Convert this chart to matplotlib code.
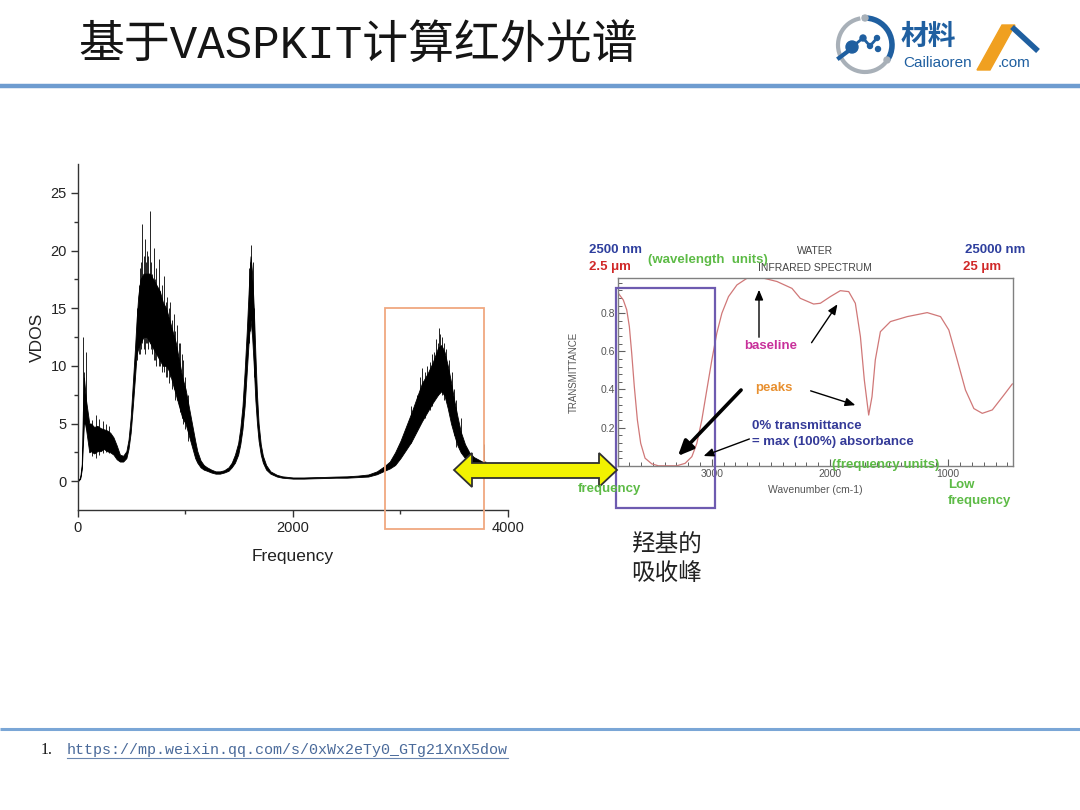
import numpy as np
import matplotlib
matplotlib.use("Agg")
import matplotlib.pyplot as plt
from matplotlib.patches import Rectangle, Polygon, Arc, Circle

plt.rcParams['font.family'] = ['Liberation Sans', 'Noto Sans CJK SC']

# ---------------- data: VDOS (left chart) ----------------
vdos_freq = [0, 20, 35, 45, 55, 65, 75, 90, 105, 120, 150, 180, 210, 240, 270, 300, 330, 360, 390, 420,
             450, 470, 490, 510, 530, 545, 560, 580, 610, 640, 670, 700, 730, 760, 790, 820, 850, 880,
             910, 940, 970, 1000, 1030, 1060, 1090, 1110, 1140, 1170, 1200, 1240, 1280, 1320, 1360,
             1400, 1430, 1460, 1490, 1510, 1530, 1550, 1570, 1590, 1605, 1620, 1635, 1650, 1665, 1680,
             1700, 1720, 1750, 1790, 1850, 1900, 2000, 2100, 2200, 2300, 2400, 2500, 2600, 2700, 2780,
             2850, 2900, 2950, 3000, 3050, 3100, 3150, 3200, 3250, 3300, 3350, 3380, 3410, 3440, 3470,
             3500, 3530, 3560, 3600, 3640, 3680, 3720, 3760, 3790]
vdos_low = [0.0, 0.2, 1.0, 3.0, 5.0, 5.0, 4.5, 3.5, 2.5, 2.6, 2.4, 2.6, 2.6, 2.8, 2.6, 2.5, 2.3, 1.9, 1.7, 1.7,
            2.0, 2.8, 4.2, 6.5, 9.0, 11.0, 11.5, 12.0, 12.5, 12.5, 12.0, 11.5, 11.0, 10.5, 10.0, 10.0, 9.5, 8.5,
            7.5, 6.5, 5.5, 5.0, 4.0, 3.0, 2.0, 1.6, 1.2, 1.0, 0.9, 0.75, 0.65, 0.65, 0.75,
            0.9, 1.2, 1.6, 2.3, 3.2, 4.5, 6.5, 9.5, 12.5, 14.0, 12.5, 10.0, 7.0, 5.0, 3.5,
            2.3, 1.6, 1.0, 0.65, 0.4, 0.3, 0.22, 0.22, 0.25, 0.27, 0.3, 0.3, 0.35, 0.4, 0.6,
            0.9, 1.1, 1.4, 2.0, 2.7, 3.4, 4.3, 5.2, 6.0, 6.8, 7.5, 7.8, 7.4, 6.3, 5.0,
            4.0, 3.1, 2.5, 2.0, 1.6, 1.4, 1.3, 1.2, 1.2]
vdos_high = [0.1, 0.3, 1.5, 6.0, 9.0, 8.0, 7.0, 6.0, 5.0, 5.0, 4.7, 4.8, 4.6, 4.5, 4.4, 4.2, 3.8, 3.1, 2.3, 2.2,
             2.6, 3.6, 5.5, 8.5, 11.5, 14.0, 16.0, 17.5, 18.0, 18.0, 18.0, 17.5, 17.0, 16.5, 15.5, 15.0, 14.0, 13.0,
             12.0, 10.5, 9.0, 8.0, 6.5, 5.0, 3.5, 2.6, 1.8, 1.4, 1.2, 1.0, 0.85, 0.85, 0.95,
             1.2, 1.6, 2.3, 3.3, 4.6, 6.5, 9.5, 13.0, 17.0, 19.5, 18.0, 15.0, 11.0, 7.5, 5.0,
             3.2, 2.2, 1.4, 0.85, 0.55, 0.42, 0.32, 0.32, 0.35, 0.37, 0.4, 0.42, 0.48, 0.58, 0.85,
             1.3, 1.7, 2.5, 3.5, 4.7, 5.9, 7.2, 8.5, 9.3, 10.3, 11.6, 11.8, 11.2, 10.0, 8.6,
             7.0, 5.6, 4.3, 3.2, 2.5, 2.1, 1.9, 1.7, 1.7]
# individual noise spikes: frequency, lower end, upper end
spike_freq = [48, 58, 70, 130, 165, 200, 230, 260, 290, 545, 565, 575, 590, 598, 610, 620, 632, 640, 655,
              670, 680, 690, 705, 718, 730, 750, 765, 780, 800, 815, 830, 845, 860, 875, 890, 905, 920,
              935, 950, 965, 980, 1000, 1020, 1590, 1600, 1610, 1625, 1640, 3100, 3150, 3180, 3200,
              3230, 3250, 3270, 3290, 3310, 3330, 3345, 3356, 3370, 3390, 3405, 3420, 3450, 3480,
              3500, 3520, 3560, 3777]
spike_low = [5.0, 5.0, 4.5, 2.2, 2.0, 2.3, 2.4, 2.5, 2.4, 10.5, 11.0, 11.0, 11.5, 12.0, 11.5, 11.0, 12.0, 12.0, 11.5,
             12.0, 11.5, 11.0, 10.5, 10.5, 10.0, 10.0, 10.0, 9.5, 9.5, 9.0, 9.0, 8.5, 9.0, 8.0, 8.0, 7.0, 7.0,
             6.5, 6.0, 5.5, 5.0, 4.5, 3.5, 12.0, 13.0, 14.0, 12.0, 9.0, 3.3, 4.5, 5.0, 5.5,
             5.5, 6.0, 6.2, 6.5, 7.0, 7.5, 7.5, 8.5, 8.0, 7.5, 7.0, 7.0, 6.0, 5.0,
             4.0, 3.0, 2.5, 1.2]
spike_high = [12.5, 9.5, 11.2, 5.3, 5.7, 5.4, 5.2, 5.0, 4.8, 15.0, 17.0, 18.5, 19.0, 22.3, 19.5, 21.0, 19.0, 20.0, 19.5,
              23.4, 19.0, 18.0, 20.2, 17.5, 18.5, 19.3, 16.5, 17.0, 17.8, 15.5, 16.0, 15.0, 15.5, 14.0, 14.5, 13.0, 13.5,
              12.0, 12.0, 11.0, 10.5, 9.0, 7.5, 18.5, 19.0, 20.5, 19.0, 15.0, 6.5, 7.5, 9.0, 9.8,
              9.5, 10.0, 10.3, 11.0, 11.2, 12.3, 12.0, 13.3, 12.8, 12.5, 12.0, 11.5, 10.5, 9.5,
              8.0, 7.0, 5.5, 3.2]

vdos_xticks = [0, 2000, 4000]
vdos_yticks = [0, 5, 10, 15, 20, 25]

# ---------------- data: water IR spectrum (right chart) ----------------
ir_wavenumber = [3792, 3749, 3720, 3698, 3678, 3656, 3630, 3602, 3565, 3508, 3452, 3370, 3297, 3226, 3169,
                 3127, 3085, 3042, 3000, 2958, 2915, 2859, 2788, 2703, 2591, 2449, 2322, 2252, 2139, 2082,
                 1997, 1913, 1842, 1786, 1743, 1710, 1673, 1645, 1617, 1574, 1489, 1347, 1178, 1065, 995,
                 924, 854, 783, 712, 627, 529, 458]
ir_transmittance = [0.905, 0.869, 0.817, 0.73, 0.59, 0.415, 0.24, 0.118, 0.04, 0.01, 0.0, 0.0, 0.0, 0.013, 0.048,
                    0.118, 0.24, 0.40, 0.555, 0.695, 0.80, 0.887, 0.948, 0.983, 0.988, 0.966, 0.93, 0.878, 0.848, 0.852,
                    0.887, 0.918, 0.913, 0.852, 0.677, 0.45, 0.266, 0.362, 0.555, 0.703, 0.756, 0.782, 0.803, 0.782, 0.712,
                    0.555, 0.397, 0.30, 0.275, 0.293, 0.371, 0.429]
ir_xticks = [3000, 2000, 1000]
ir_yticks = [0.2, 0.4, 0.6, 0.8]

title = "基于VASPKIT计算红外光谱"
footnote_url = "https://mp.weixin.qq.com/s/0xWx2eTy0_GTg21XnX5dow"

W, H = 1080, 810
fig = plt.figure(figsize=(W / 100, H / 100), dpi=100)
fig.patch.set_facecolor('white')


def rect(l, t, r, b):
    return [l / W, 1 - b / H, (r - l) / W, (b - t) / H]


# ---------------- left chart ----------------
ax1 = fig.add_axes(rect(78, 164, 508, 510))
ax1.fill_between(vdos_freq, vdos_low, vdos_high, color='black', lw=0.6)
ax1.vlines(spike_freq, spike_low, spike_high, color='black', lw=0.6)
ax1.set_xlim(0, 4000)
ax1.set_ylim(-2.5, 27.5)
ax1.set_xticks(vdos_xticks)
ax1.set_xticks([1000, 3000], minor=True)
ax1.set_yticks(vdos_yticks)
ax1.set_yticks([2.5, 7.5, 12.5, 17.5, 22.5], minor=True)
for s in ['top', 'right']:
    ax1.spines[s].set_visible(False)
for s in ['left', 'bottom']:
    ax1.spines[s].set_color('#333333')
    ax1.spines[s].set_linewidth(1.0)
ax1.tick_params(which='major', direction='out', length=5, width=1, colors='#333333',
                labelsize=10.5, labelcolor='#222222', pad=3)
ax1.tick_params(which='minor', direction='out', length=3, width=1, colors='#333333')
ax1.set_xlabel("Frequency", fontsize=12.5, color='#222222', labelpad=10)
ax1.set_ylabel("VDOS", fontsize=12.5, color='#222222', labelpad=4)
ax1.patch.set_alpha(0)

# ---------------- right chart ----------------
ax2 = fig.add_axes(rect(618, 277.7, 1013, 465.8))
ax2.plot(ir_wavenumber, ir_transmittance, color='#D07878', lw=0.9)
ax2.set_xlim(3794, 452)
ax2.set_ylim(0, 0.986)
ax2.set_xticks(ir_xticks)
ax2.set_xticks(np.arange(500, 3800, 100), minor=True)
ax2.set_yticks(ir_yticks)
ax2.set_yticks(np.arange(0.04, 0.98, 0.04), minor=True)
for s in ax2.spines.values():
    s.set_color('#808080')
    s.set_linewidth(1.0)
ax2.tick_params(which='major', direction='in', length=5, width=0.8, colors='#606060',
                labelsize=7.5, labelcolor='#555555', pad=2, top=False, right=False)
ax2.tick_params(which='minor', direction='in', length=3, width=0.7, colors='#606060',
                top=False, right=False)
ax2.patch.set_alpha(0)

# ---------------- overlay (slide elements) ----------------
ov = fig.add_axes([0, 0, 1, 1])
ov.set_xlim(0, W)
ov.set_ylim(H, 0)
ov.axis('off')
ov.set_zorder(10)
ov.patch.set_alpha(0)

# header/footer rules
ov.plot([0, W], [86, 86], color='#6E9CD0', lw=3.2, solid_capstyle='butt')
ov.plot([0, W], [729, 729], color='#7AA6D6', lw=2.2, solid_capstyle='butt')

# title
ov.text(78, 47, title, family=['Liberation Mono', 'Noto Sans CJK SC'], fontsize=33,
        color='#151515', va='center', ha='left')

# logo
ov.add_patch(Arc((865, 45), 54, 54, theta1=40, theta2=260, color='#A8B0B8', lw=3))
ov.add_patch(Arc((865, 45), 54, 54, theta1=-95, theta2=35, color='#1F5FA0', lw=4))
ov.add_patch(Circle((865, 18), 3, color='#A8B0B8'))
ov.add_patch(Circle((887, 60), 3, color='#A8B0B8'))
ov.plot([839, 847], [58, 52], color='#1F5FA0', lw=3)
ov.plot([852, 863, 870, 877], [47, 38, 46, 38], color='#1F5FA0', lw=2)
ov.add_patch(Circle((852, 47), 6, color='#1F5FA0'))
ov.add_patch(Circle((863, 38), 3, color='#1F5FA0'))
ov.add_patch(Circle((870, 46), 2.5, color='#1F5FA0'))
ov.add_patch(Circle((877, 38), 2.5, color='#1F5FA0'))
ov.add_patch(Circle((878, 49), 2.5, color='#1F5FA0'))
ov.text(901, 37, "材料", family=['Noto Sans CJK SC'], fontsize=20, fontweight='bold',
        color='#1F5FA0', va='center', ha='left')
ov.add_patch(Polygon([(977, 70), (990, 70), (1015, 25), (1002, 25)], closed=True, color='#F0A020'))
ov.plot([1012, 1038], [27, 51], color='#1F5FA0', lw=4, solid_capstyle='butt')
ov.text(903, 63, "Cailiaoren", fontsize=11, color='#1F5FA0', va='center', ha='left')
ov.text(998, 63, ".com", fontsize=11, color='#1F5FA0', va='center', ha='left')

# orange box on VDOS peak, purple box on IR band
ov.add_patch(Rectangle((385, 308), 99, 221, fill=False, ec='#F0A880', lw=1.3))
ov.add_patch(Rectangle((616, 288), 99, 220, fill=False, ec='#6E5BB0', lw=1.6))

# yellow double arrow
ov.add_patch(Polygon([(454, 470), (472, 453), (472, 463), (599, 463), (599, 453), (617, 470),
                      (599, 487), (599, 478), (472, 478), (472, 487)], closed=True,
                     fc='#F2F200', ec='#303030', lw=1.3))

# IR annotations
bold = dict(fontweight='bold', va='center', ha='left', fontsize=9.5)
blue, red, green = '#2E3F9E', '#D02828', '#5DBB46'
ov.text(589, 250, "2500 nm", color=blue, **bold)
ov.text(589, 267, "2.5 \u03bcm", color=red, **bold)
ov.text(648, 260, "(wavelength  units)", color=green, **bold)
ov.text(815, 251, "WATER", color='#444444', fontsize=7.5, ha='center', va='center')
ov.text(815, 268, "INFRARED SPECTRUM", color='#444444', fontsize=7.5, ha='center', va='center')
ov.text(1025, 250, "25000 nm", color=blue, fontweight='bold', fontsize=9.5, ha='right', va='center')
ov.text(963, 267, "25 \u03bcm", color=red, **bold)
ov.text(744, 346, "baseline", color='#C8309A', **bold)
ov.text(755, 388, "peaks", color='#E89030', **bold)
ov.text(752, 426, "0% transmittance", color='#343A98', **bold)
ov.text(752, 442, "= max (100%) absorbance", color='#343A98', **bold)
ov.text(832, 465, "(frequency units)", color=green, **bold)
ov.text(578, 489, "frequency", color=green, **bold)
ov.text(948, 485, "Low", color=green, **bold)
ov.text(948, 501, "frequency", color=green, **bold)
ov.text(815, 490, "Wavenumber (cm-1)", color='#555555', fontsize=7.5, ha='center', va='center')
ov.text(574, 372, "TRANSMITTANCE", color='#555555', fontsize=7, ha='center', va='center', rotation=90)

thin = dict(arrowstyle='-|>,head_length=0.6,head_width=0.25', color='black', lw=1.0)
ov.annotate("", xy=(759, 287), xytext=(759, 340), arrowprops=thin)
ov.annotate("", xy=(839, 302), xytext=(810, 345), arrowprops=thin)
ov.annotate("", xy=(858, 406), xytext=(808, 390), arrowprops=thin)
ov.annotate("", xy=(701, 457), xytext=(752, 438), arrowprops=thin)
ov.annotate("", xy=(676, 458), xytext=(743, 388),
            arrowprops=dict(arrowstyle='-|>,head_length=0.9,head_width=0.4', color='black', lw=2.6))

# Chinese note
ov.text(667, 545, "羟基的", family=['Noto Sans CJK SC'], fontsize=17, color='#222222',
        ha='center', va='center')
ov.text(667, 573, "吸收峰", family=['Noto Sans CJK SC'], fontsize=17, color='#222222',
        ha='center', va='center')

# footnote
ov.text(41, 750, "1.", family=['Liberation Serif'], fontsize=11.5, color='#111111', va='center', ha='left')
ov.text(67, 750, footnote_url, family=['Liberation Mono'], fontsize=10.8, color='#4A6A9A',
        va='center', ha='left')
ov.plot([67, 508], [757.5, 757.5], color='#6A86B0', lw=0.8)

fig.savefig("out.png", dpi=100, facecolor='white')
